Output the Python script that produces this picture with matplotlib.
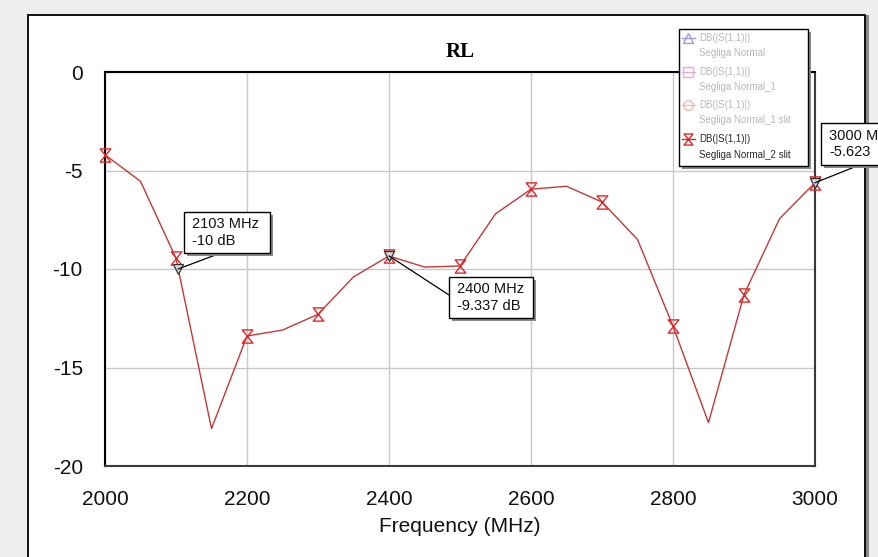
import matplotlib
matplotlib.use("Agg")
import matplotlib.pyplot as plt
from matplotlib.path import Path
from matplotlib.patches import Rectangle
from matplotlib.lines import Line2D

# ---------------- data ----------------
freq = [2000, 2050, 2100, 2150, 2200, 2250, 2300, 2350, 2400, 2450, 2500,
        2550, 2600, 2650, 2700, 2750, 2800, 2850, 2900, 2950, 3000]
rl_db = [-4.2, -5.55, -9.45, -18.1, -13.4, -13.1, -12.3, -10.4, -9.34, -9.9, -9.85,
         -7.2, -5.95, -5.8, -6.6, -8.5, -12.9, -17.8, -11.3, -7.45, -5.62]
marker_freq = [2000, 2100, 2200, 2300, 2400, 2500, 2600, 2700, 2800, 2900, 3000]

ann_freq = [2103, 2400, 3000]
ann_val = [-10, -9.337, -5.623]
ann_text = ["2103 MHz\n-10 dB", "2400 MHz\n-9.337 dB", "3000 M\n-5.623"]

xticks = [2000, 2200, 2400, 2600, 2800, 3000]
yticks = [0, -5, -10, -15, -20]
title = "RL"
xlabel = "Frequency (MHz)"

legend_line1 = ["DB(|S(1,1)|)", "DB(|S(1,1)|)", "DB(|S(1,1)|)", "DB(|S(1,1)|)"]
legend_line2 = ["Segliga Normal", "Segliga Normal_1", "Segliga Normal_1 slit",
                "Segliga Normal_2 slit"]

# ---------------- layout helpers ----------------
W, H = 879, 557
fig = plt.figure(figsize=(W / 100, H / 100), dpi=100)
fig.patch.set_facecolor("#eeeeee")

def fx(x):
    return x / W

def fy(y):
    return 1 - y / H

def frect(x0, y0, x1, y1, **kw):
    r = Rectangle((fx(x0), fy(y1)), (x1 - x0) / W, (y1 - y0) / H,
                  transform=fig.transFigure, **kw)
    fig.add_artist(r)
    return r

def box_with_shadow(x0, y0, x1, y1, z, lw=1.0):
    frect(x0 + 3, y0 + 3, x1 + 3, y1 + 3, facecolor="#8a8a8a", edgecolor="none", zorder=z)
    frect(x0, y0, x1, y1, facecolor="white", edgecolor="black", lw=lw, zorder=z + 0.1)

# white panel
frect(865, 15, 869, 560, facecolor="#8c8c8c", edgecolor="none", zorder=-2)
frect(28, 15, 865, 560, facecolor="white", edgecolor="black", lw=1.3, zorder=-1)

# ---------------- axes ----------------
ax_l, ax_r, ax_t, ax_b = 105, 815, 72, 466
ax = fig.add_axes([fx(ax_l), fy(ax_b), (ax_r - ax_l) / W, (ax_b - ax_t) / H])
ax.set_facecolor("white")
ax.set_xlim(2000, 3000)
ax.set_ylim(-20, 0)
ax.set_xticks(xticks)
ax.set_yticks(yticks)
ax.set_xticklabels([str(t) for t in xticks], fontsize=15, family="Liberation Sans", color="#111111")
ax.set_yticklabels([str(t) for t in yticks], fontsize=15, family="Liberation Sans", color="#111111")
ax.tick_params(axis="x", length=0, pad=17)
ax.tick_params(axis="y", length=0, pad=16)
ax.grid(True, color="#c8c8c8", lw=1.0)
ax.set_axisbelow(True)
for side in ["left", "top"]:
    ax.spines[side].set_color("black")
    ax.spines[side].set_linewidth(1.5)
for side in ["bottom", "right"]:
    ax.spines[side].set_color("#3a3a3a")
    ax.spines[side].set_linewidth(1.5)

hourglass = Path([(-0.4, 0.5), (0.4, 0.5), (-0.4, -0.5), (0.4, -0.5), (-0.4, 0.5)],
                 [Path.MOVETO, Path.LINETO, Path.LINETO, Path.LINETO, Path.CLOSEPOLY])

ax.plot(freq, rl_db, color="#c43838", lw=1.0, zorder=3, clip_on=False)
lookup = dict(zip(freq, rl_db))
ax.plot(marker_freq, [lookup[f] for f in marker_freq], linestyle="none",
        marker=hourglass, markersize=9.5, markerfacecolor="none",
        markeredgecolor="#e02828", markeredgewidth=1.0, zorder=4, clip_on=False)

# marker triangles
ax.plot(ann_freq, ann_val, linestyle="none", marker="v", markersize=7,
        markerfacecolor="#d8d8d8", markeredgecolor="#303030", markeredgewidth=0.9,
        zorder=5, clip_on=False)

# annotation boxes (pixel layout)
boxes = [(184, 212, 270, 253), (449, 277, 533, 318), (821, 123, 905, 165)]
leader_end = [(218, 254), (449, 295), (857, 166)]
for f, v, txt, (x0, y0, x1, y1), (lx, ly) in zip(ann_freq, ann_val, ann_text, boxes, leader_end):
    ax.annotate("", xy=(f, v), xycoords="data", xytext=(fx(lx), fy(ly)),
                textcoords="figure fraction",
                arrowprops=dict(arrowstyle="-", color="black", lw=0.9,
                                shrinkA=0, shrinkB=0), annotation_clip=False, zorder=6)
    box_with_shadow(x0, y0, x1, y1, z=10)
    fig.text(fx(x0 + 8), fy((y0 + y1) / 2), txt, ha="left", va="center",
             fontsize=10.5, family="Liberation Sans", linespacing=1.25,
             color="#111111", zorder=11)

# title and x label
fig.text(fx((ax_l + ax_r) / 2), fy(52), title, ha="center", va="center",
         fontsize=15, fontweight="bold", family="Liberation Serif", color="black")
fig.text(fx((ax_l + ax_r) / 2), fy(526), xlabel, ha="center", va="center",
         fontsize=15, family="Liberation Sans", color="#111111")

# ---------------- legend (pixel layout) ----------------
box_with_shadow(679, 29, 808, 166, z=12, lw=1.0)
sym_colors = ["#9a9ae0", "#f0a8d8", "#f2b8b8", "#e02828"]
text_colors = ["#b8b8b8", "#b8b8b8", "#b8b8b8", "#2a2a2a"]
sym_markers = ["^", "s", "o", hourglass]
line1_y = [38, 72, 105, 139]
line2_y = [53, 87, 120, 155]
for i in range(4):
    y = line1_y[i]
    fig.add_artist(Line2D([fx(682), fx(695)], [fy(y), fy(y)], transform=fig.transFigure,
                          color=sym_colors[i], lw=1.0, zorder=13))
    fig.add_artist(Line2D([fx(688.5)], [fy(y)], transform=fig.transFigure,
                          marker=sym_markers[i], markersize=8 if i == 3 else 7,
                          markerfacecolor="none", markeredgecolor=sym_colors[i],
                          markeredgewidth=1.0, linestyle="none", zorder=13))
    fig.text(fx(699), fy(y), legend_line1[i], ha="left", va="center", fontsize=7,
             family="Liberation Sans", color=text_colors[i], zorder=14)
    fig.text(fx(699), fy(line2_y[i]), legend_line2[i], ha="left", va="center", fontsize=7,
             family="Liberation Sans", color=text_colors[i], zorder=14)

fig.savefig("out.png", dpi=100, facecolor=fig.get_facecolor())
